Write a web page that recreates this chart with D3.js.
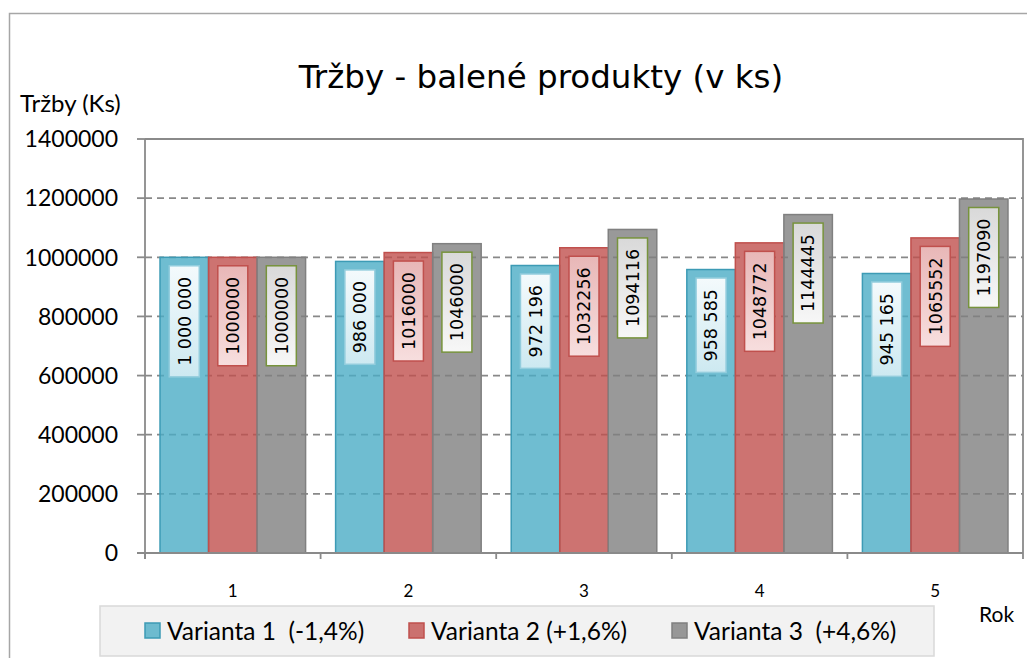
<!DOCTYPE html>
<html lang="cs">
<head>
  <meta charset="UTF-8">
  <title>Tržby - balené produkty</title>
  <script src="https://d3js.org/d3.v7.min.js"></script>
  <style>
    body { margin: 0; padding: 0; background: #fff; }
    svg { display: block; }
    text { fill: #000; }
  </style>
</head>
<body>
<svg id="chart" width="1027" height="658"></svg>

<script>
  // data
  const years = ["1", "2", "3", "4", "5"];
  const seriesNames = ["Varianta 1  (-1,4%)", "Varianta 2 (+1,6%)", "Varianta 3  (+4,6%)"];
  const varianta1 = [1000000, 986000, 972196, 958585, 945165];
  const varianta2 = [1000000, 1016000, 1032256, 1048772, 1065552];
  const varianta3 = [1000000, 1046000, 1094116, 1144445, 1197090];
  const yTicks = [0, 200000, 400000, 600000, 800000, 1000000, 1200000, 1400000];

  const colors = ["#4BACC6", "#C0504D", "#808080"];
  const strokes = ["#3d9bb5", "#C0504D", "#808080"];
  const labelBorders = ["#93CDDD", "#C0504D", "#77933C"];
  const labelGrad = [["#cde9f1", "#f4fafc"], ["#f7dede", "#e8b7b7"], ["#f7f7f7", "#d9d9d9"]];

  const series = [varianta1, varianta2, varianta3].map((vals, i) => ({
    name: seriesNames[i], idx: i, values: vals
  }));

  const svg = d3.select("#chart");
  const plot = { left: 145, right: 1023, top: 139, bottom: 553 };
  const axisFont = "Lato, 'Open Sans', sans-serif";
  const labelFont = "'DejaVu Sans', sans-serif";

  // outer chart border
  svg.append("path")
    .attr("d", "M9.5,658 V13.5 H1027")
    .attr("fill", "none")
    .attr("stroke", "#a6a6a6")
    .attr("stroke-width", 1.5);

  const y = d3.scaleLinear().domain([0, 1400000]).range([plot.bottom, plot.top]);
  const x0 = d3.scaleBand().domain(years).range([plot.left, plot.right])
    .paddingInner(0.171).paddingOuter(0.0855);
  const x1 = d3.scaleBand().domain(d3.range(series.length)).range([0, x0.bandwidth()]);

  // gradients for the data labels
  const defs = svg.append("defs");
  labelGrad.forEach((g, i) => {
    const lg = defs.append("linearGradient").attr("id", "lg" + i)
      .attr("x1", "0%").attr("x2", "100%").attr("y1", "0%").attr("y2", "0%");
    lg.append("stop").attr("offset", "0%").attr("stop-color", g[0]);
    lg.append("stop").attr("offset", "100%").attr("stop-color", g[1]);
  });

  // gridlines
  svg.append("g")
    .selectAll("line")
    .data(yTicks.filter(t => t > 0 && t < 1400000))
    .enter().append("line")
      .attr("x1", plot.left).attr("x2", plot.right)
      .attr("y1", d => y(d)).attr("y2", d => y(d))
      .attr("stroke", "#888")
      .attr("stroke-width", 1.8)
      .attr("stroke-dasharray", "7,5");

  // plot area top & right border
  svg.append("path")
    .attr("d", `M${plot.left},${y(1400000)} H${plot.right} V${plot.bottom}`)
    .attr("fill", "none")
    .attr("stroke", "#8a8a8a")
    .attr("stroke-width", 1.8);

  // bars
  const groups = svg.append("g")
    .selectAll("g")
    .data(years)
    .enter().append("g")
      .attr("transform", d => `translate(${x0(d)},0)`);

  groups.selectAll("rect")
    .data((d, j) => series.map(s => ({ s: s.idx, v: s.values[j] })))
    .enter().append("rect")
      .attr("x", d => x1(d.s))
      .attr("width", x1.bandwidth())
      .attr("y", d => y(d.v))
      .attr("height", d => y(0) - y(d.v))
      .attr("fill", d => colors[d.s])
      .attr("fill-opacity", 0.8)
      .attr("stroke", d => strokes[d.s])
      .attr("stroke-width", 1.5);

  // data labels (rotated, inside end)
  const fmtSpace = v => d3.format(",")(v).replace(/,/g, " ");
  const pad = 11;
  const labels = groups.selectAll("g.lbl")
    .data((d, j) => series.map(s => ({ s: s.idx, v: s.values[j] })))
    .enter().append("g")
      .attr("class", "lbl")
      .attr("transform", d => `translate(${x1(d.s) + x1.bandwidth() / 2},${y(d.v) + 8.5}) rotate(-90)`);

  labels.append("text")
    .attr("x", -pad)
    .attr("y", 0)
    .attr("dy", "0.36em")
    .attr("text-anchor", "end")
    .style("font-family", labelFont)
    .style("font-size", "17.5px")
    .text(d => d.s === 0 ? fmtSpace(d.v) : String(d.v))
    .each(function (d) { d.w = this.getComputedTextLength(); });

  labels.insert("rect", "text")
    .attr("x", d => -d.w - 2 * pad)
    .attr("y", -15)
    .attr("width", d => d.w + 2 * pad)
    .attr("height", 30)
    .attr("fill", d => `url(#lg${d.s})`)
    .attr("stroke", d => labelBorders[d.s])
    .attr("stroke-width", 1.5);

  // y axis
  svg.append("line")
    .attr("x1", plot.left).attr("x2", plot.left)
    .attr("y1", plot.top).attr("y2", plot.bottom + 6)
    .attr("stroke", "#8a8a8a").attr("stroke-width", 1.8);

  const yAx = svg.append("g");
  yAx.selectAll("line")
    .data(yTicks)
    .enter().append("line")
      .attr("x1", plot.left - 8).attr("x2", plot.left)
      .attr("y1", d => y(d)).attr("y2", d => y(d))
      .attr("stroke", "#8a8a8a").attr("stroke-width", 1.8);
  yAx.selectAll("text")
    .data(yTicks)
    .enter().append("text")
      .attr("x", 118)
      .attr("y", d => y(d))
      .attr("dy", "0.36em")
      .attr("text-anchor", "end")
      .style("font-family", axisFont)
      .style("font-size", "23px")
      .text(d => d);

  // x axis
  svg.append("line")
    .attr("x1", plot.left - 8).attr("x2", plot.right)
    .attr("y1", plot.bottom).attr("y2", plot.bottom)
    .attr("stroke", "#8a8a8a").attr("stroke-width", 1.8);

  const step = x0.step();
  svg.append("g")
    .selectAll("line")
    .data(d3.range(years.length + 1))
    .enter().append("line")
      .attr("x1", i => plot.left + i * step).attr("x2", i => plot.left + i * step)
      .attr("y1", plot.bottom).attr("y2", plot.bottom + 6)
      .attr("stroke", "#8a8a8a").attr("stroke-width", 1.8);

  svg.append("g")
    .selectAll("text")
    .data(years)
    .enter().append("text")
      .attr("x", d => x0(d) + x0.bandwidth() / 2)
      .attr("y", 597)
      .attr("text-anchor", "middle")
      .style("font-family", axisFont)
      .style("font-size", "17px")
      .text(d => d);

  // titles
  svg.append("text")
    .attr("x", 541).attr("y", 88)
    .attr("text-anchor", "middle")
    .style("font-family", labelFont)
    .style("font-size", "32.5px")
    .text("Tržby - balené produkty (v ks)");

  svg.append("text")
    .attr("x", 20).attr("y", 112)
    .style("font-family", axisFont)
    .style("font-size", "24px")
    .text("Tržby (Ks)");

  svg.append("text")
    .attr("x", 979).attr("y", 622)
    .style("font-family", axisFont)
    .style("font-size", "21px")
    .text("Rok");

  // legend
  const legend = svg.append("g");
  legend.append("rect")
    .attr("x", 100).attr("y", 606)
    .attr("width", 834).attr("height", 50)
    .attr("fill", "#f2f2f2")
    .attr("stroke", "#d9d9d9")
    .attr("stroke-width", 1.5);

  const legX = [145, 409, 672];
  const items = legend.selectAll("g.item")
    .data(series)
    .enter().append("g")
      .attr("class", "item")
      .attr("transform", (d, i) => `translate(${legX[i]},623)`);
  items.append("rect")
    .attr("width", 15).attr("height", 15)
    .attr("fill", d => colors[d.idx]).attr("fill-opacity", 0.8)
    .attr("stroke", d => strokes[d.idx]).attr("stroke-width", 1.5);
  items.append("text")
    .attr("x", 22).attr("y", 17)
    .style("font-family", axisFont)
    .style("font-size", "24.5px")
    .style("white-space", "pre")
    .text(d => d.name);
</script>
</body>
</html>
